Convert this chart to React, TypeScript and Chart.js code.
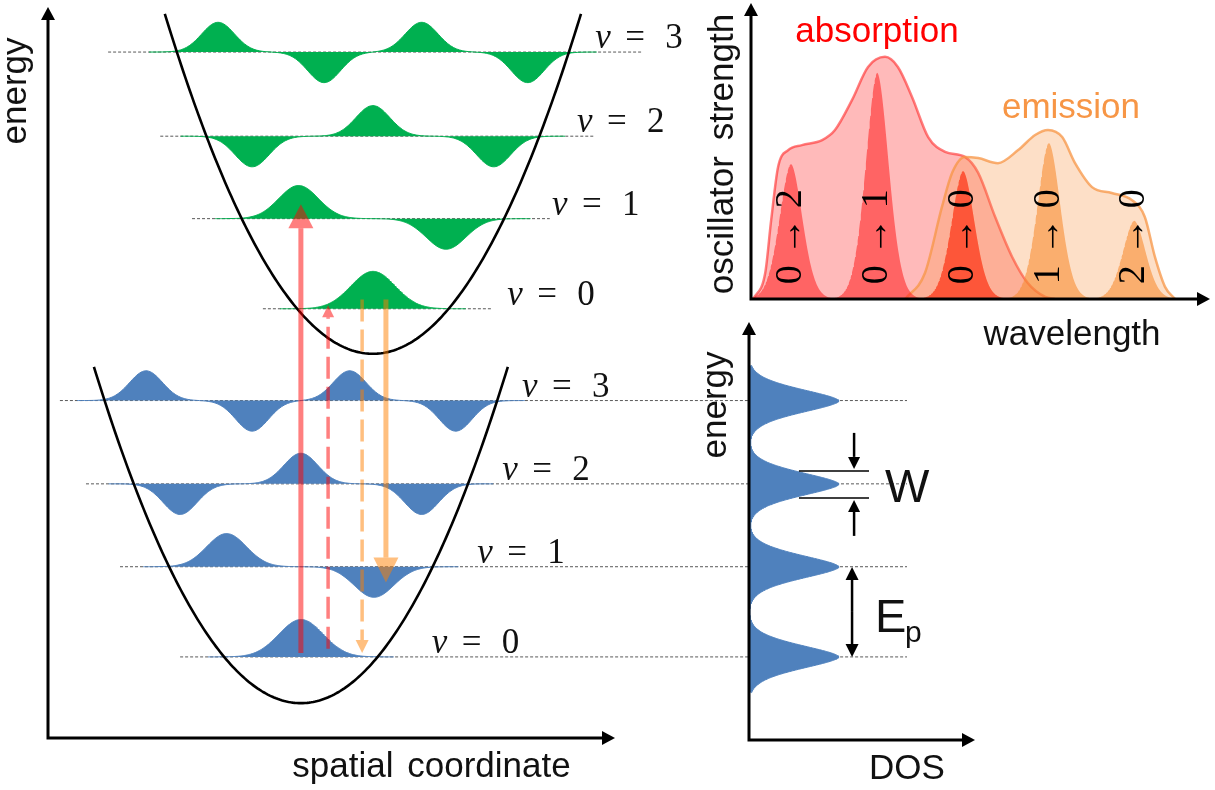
import React, { useEffect, useRef } from "react";
import { Chart, registerables } from "chart.js";

Chart.register(...registerables);

// ================= Franck–Condon panel (spatial coordinate / energy) =================
const wellCenters = [4.46, 5.73]; // ground, excited
const wellMinima = [0.41, 4.52];
const wellCurvature = [0.297, 0.297];
const wellHalfSpan = [3.65, 3.67];

const groundLevels = [0.954, 2.015, 2.99, 3.97];
const excitedLevels = [5.05, 6.11, 7.08, 8.07];

// vibrational wavefunction lobes (offset from well centre, signed amplitude), per quantum number
const lobeOffsets = [[0], [-1.31, 1.29], [-2.13, 0, 2.13], [-2.73, -0.86, 0.86, 2.73]];
const lobeAmps = [[0.44], [0.39, -0.36], [-0.36, 0.36, -0.36], [0.35, -0.36, 0.35, -0.36]];
const lobeWidths = [0.39, 0.35, 0.3, 0.29];

const groundLineStart = [2.33, 1.27, 0.67, 0.21];
const groundLineEnd = [15.15, 15.15, 15.15, 15.15];
const excitedLineStart = [3.79, 2.54, 1.98, 1.06];
const excitedLineEnd = [7.83, 8.85, 9.65, 10.46];

const levelNumbers = ["0", "1", "2", "3"];
const groundLabelX = [6.77, 7.57, 8.01, 8.36];
const excitedLabelX = [8.1, 8.89, 9.33, 9.65];

const transitionX = [4.46, 4.94, 5.54, 5.96];
const transitionFrom = [1.0, 1.05, 5.16, 5.16];
const transitionTo = [6.28, 5.09, 1.0, 1.83];

// ================= spectrum panel (wavelength / oscillator strength) =================
const absEnvX = [0.05, 0.31, 0.44, 0.59, 0.81, 1.11, 1.55, 1.83, 2.2, 2.55, 2.92, 3.2, 3.51, 3.86, 4.23, 4.66, 4.95, 5.32, 5.69, 6.03, 6.41, 6.62];
const absEnvY = [0, 0.88, 2.67, 4.46, 5.03, 5.2, 5.37, 5.71, 6.72, 7.84, 8.18, 7.84, 6.82, 5.47, 4.97, 4.8, 4.26, 2.77, 1.42, 0.54, 0.07, 0];
const emEnvX = [3.36, 3.79, 4.16, 4.38, 4.66, 4.95, 5.38, 5.82, 6.19, 6.47, 6.78, 7.06, 7.43, 7.86, 8.3, 8.58, 8.8, 9.02, 9.24];
const emEnvY = [0, 0.88, 3.11, 4.26, 4.8, 4.76, 4.59, 5.03, 5.54, 5.71, 5.47, 4.59, 3.78, 3.58, 3.34, 2.77, 1.42, 0.41, 0];

const peakLabels = ["0 → 2", "0 → 1", "0 → 0", "1 → 0", "2 → 0"];
const peakPositions = [0.87, 2.75, 4.62, 6.49, 8.35];
const absPeakHeights = [4.56, 7.64, 4.32, 0, 0];
const emPeakHeights = [0, 0, 4.32, 5.27, 2.64];
const peakWidth = 0.36;
const peakLabelLevel = 2.1;

// ================= DOS panel =================
const dosPeakEnergies = [0.954, 2.015, 2.99, 3.97];
const dosPeakHeight = 3.98;
const dosPeakWidth = 0.197;
const bandwidthEdges = [2.828, 3.146]; // W
const phononSpan = [0.954, 2.015]; // Ep

// ---------------- styles ----------------
const GREEN = "#00b050";
const BLUE = "#4f81bd";
const ORANGE = "#f79646";
const SANS = '"Liberation Sans", Arial, sans-serif';
const SERIF = '"Liberation Serif", "DejaVu Serif", serif';

const transitionStyle = [
  { color: "rgba(255,0,0,0.5)", width: 5, dash: [] as number[], head: 24, headW: 25 },
  { color: "rgba(255,0,0,0.5)", width: 3.5, dash: [22, 8], head: 12, headW: 12 },
  { color: "rgba(255,128,0,0.5)", width: 3.5, dash: [22, 8], head: 13, headW: 13 },
  { color: "rgba(255,128,0,0.5)", width: 5, dash: [] as number[], head: 25, headW: 25 },
];

// ---------------- helpers ----------------
function wellData(i: number) {
  const pts: { x: number; y: number }[] = [];
  const c = wellCenters[i], hs = wellHalfSpan[i];
  const N = 200;
  for (let k = 0; k <= N; k++) {
    const x = c - hs + (2 * hs * k) / N;
    pts.push({ x, y: wellMinima[i] + wellCurvature[i] * (x - c) * (x - c) });
  }
  return pts;
}

function waveData(center: number, level: number, n: number) {
  const offs = lobeOffsets[n], amps = lobeAmps[n], s = lobeWidths[n];
  const half = Math.max(...offs.map(Math.abs)) + 4.2 * s;
  const pts: { x: number; y: number }[] = [];
  const N = 300;
  for (let k = 0; k <= N; k++) {
    const x = center - half + (2 * half * k) / N;
    let v = 0;
    offs.forEach((o, j) => {
      const d = x - (center + o);
      v += amps[j] * Math.exp((-d * d) / (2 * s * s));
    });
    pts.push({ x, y: level + v });
  }
  return pts;
}

function peakData(pos: number, h: number) {
  const pts: { x: number; y: number }[] = [];
  const N = 160;
  for (let k = 0; k <= N; k++) {
    const x = pos - 1.1 + (2.2 * k) / N;
    pts.push({ x, y: h * Math.exp(-Math.pow(Math.abs(x - pos) / peakWidth, 1.8)) });
  }
  return pts;
}

function dosData() {
  const pts: { x: number; y: number }[] = [];
  const e0 = dosPeakEnergies[0] - 0.42, e1 = dosPeakEnergies[dosPeakEnergies.length - 1] + 0.42;
  const N = 900;
  for (let k = 0; k <= N; k++) {
    const e = e0 + ((e1 - e0) * k) / N;
    let v = 0;
    dosPeakEnergies.forEach((p) => {
      v += dosPeakHeight * Math.exp(-Math.pow(Math.abs(e - p) / dosPeakWidth, 1.7));
    });
    pts.push({ x: v, y: e });
  }
  return pts;
}

function drawAxes(ctx: CanvasRenderingContext2D, area: any, lw = 3, head = 13, hw = 7) {
  ctx.save();
  ctx.strokeStyle = "#000";
  ctx.fillStyle = "#000";
  ctx.lineWidth = lw;
  ctx.lineCap = "butt";
  ctx.setLineDash([]);
  ctx.beginPath();
  ctx.moveTo(area.left, area.bottom + lw / 2);
  ctx.lineTo(area.left, area.top + head - 1);
  ctx.moveTo(area.left - lw / 2, area.bottom);
  ctx.lineTo(area.right - head + 1, area.bottom);
  ctx.stroke();
  ctx.beginPath();
  ctx.moveTo(area.left, area.top);
  ctx.lineTo(area.left - hw, area.top + head);
  ctx.lineTo(area.left + hw, area.top + head);
  ctx.closePath();
  ctx.fill();
  ctx.beginPath();
  ctx.moveTo(area.right, area.bottom);
  ctx.lineTo(area.right - head, area.bottom - hw);
  ctx.lineTo(area.right - head, area.bottom + hw);
  ctx.closePath();
  ctx.fill();
  ctx.restore();
}

function vText(ctx: CanvasRenderingContext2D, text: string, x: number, y: number, font: string, color: string, baseline: CanvasTextBaseline = "alphabetic", wordSpacing = 0) {
  ctx.save();
  ctx.translate(x, y);
  ctx.rotate(-Math.PI / 2);
  ctx.font = font;
  ctx.fillStyle = color;
  ctx.textAlign = "center";
  ctx.textBaseline = baseline;
  if (wordSpacing && "wordSpacing" in ctx) (ctx as any).wordSpacing = wordSpacing + "px";
  ctx.fillText(text, 0, 0);
  ctx.restore();
}

function hText(ctx: CanvasRenderingContext2D, text: string, x: number, y: number, font: string, color: string, align: CanvasTextAlign = "center", wordSpacing = 0) {
  ctx.save();
  ctx.font = font;
  ctx.fillStyle = color;
  ctx.textAlign = align;
  ctx.textBaseline = "alphabetic";
  if (wordSpacing && "wordSpacing" in ctx) (ctx as any).wordSpacing = wordSpacing + "px";
  ctx.fillText(text, x, y);
  ctx.restore();
}

function vArrow(ctx: CanvasRenderingContext2D, x: number, y0: number, y1: number, color: string, width: number, dash: number[], head: number, headW: number) {
  const dir = y1 < y0 ? -1 : 1;
  const base = y1 - dir * head;
  ctx.save();
  ctx.strokeStyle = color;
  ctx.fillStyle = color;
  ctx.lineWidth = width;
  ctx.lineCap = "butt";
  ctx.setLineDash(dash);
  ctx.beginPath();
  ctx.moveTo(x, y0);
  ctx.lineTo(x, base);
  ctx.stroke();
  ctx.setLineDash([]);
  ctx.beginPath();
  ctx.moveTo(x, y1);
  ctx.lineTo(x - headW / 2, base);
  ctx.lineTo(x + headW / 2, base);
  ctx.closePath();
  ctx.fill();
  ctx.restore();
}

const baseOptions = (padding: any) => ({
  responsive: false,
  maintainAspectRatio: false,
  animation: false as const,
  events: [] as any[],
  layout: { padding },
  plugins: { legend: { display: false }, tooltip: { enabled: false }, title: { display: false } },
  elements: { point: { radius: 0 } },
});

// ---------------- left chart ----------------
function leftConfig(): any {
  const datasets: any[] = [];
  [0, 1].forEach((i) => {
    datasets.push({
      data: wellData(i),
      borderColor: "#000",
      borderWidth: 2.6,
      pointRadius: 0,
      fill: false,
      order: 0,
    });
  });
  levelNumbers.forEach((_, n) => {
    datasets.push({
      data: waveData(wellCenters[0], groundLevels[n], n),
      borderColor: BLUE,
      backgroundColor: BLUE,
      borderWidth: 1,
      pointRadius: 0,
      fill: { value: groundLevels[n] },
      order: 1,
    });
    datasets.push({
      data: waveData(wellCenters[1], excitedLevels[n], n),
      borderColor: GREEN,
      backgroundColor: GREEN,
      borderWidth: 1,
      pointRadius: 0,
      fill: { value: excitedLevels[n] },
      order: 1,
    });
    datasets.push({
      data: [
        { x: groundLineStart[n], y: groundLevels[n] },
        { x: groundLineEnd[n], y: groundLevels[n] },
      ],
      borderColor: "rgba(60,60,60,0.85)",
      borderWidth: 1,
      borderDash: [3, 2],
      pointRadius: 0,
      fill: false,
      clip: false,
      order: 2,
    });
    datasets.push({
      data: [
        { x: excitedLineStart[n], y: excitedLevels[n] },
        { x: excitedLineEnd[n], y: excitedLevels[n] },
      ],
      borderColor: "rgba(60,60,60,0.85)",
      borderWidth: 1,
      borderDash: [3, 2],
      pointRadius: 0,
      fill: false,
      clip: false,
      order: 2,
    });
  });

  const deco = {
    id: "leftDeco",
    afterDatasetsDraw(chart: any) {
      const ctx: CanvasRenderingContext2D = chart.ctx;
      const xs = chart.scales.x, ys = chart.scales.y;
      transitionX.forEach((tx, i) => {
        const st = transitionStyle[i];
        vArrow(ctx, xs.getPixelForValue(tx), ys.getPixelForValue(transitionFrom[i]), ys.getPixelForValue(transitionTo[i]), st.color, st.width, st.dash, st.head, st.headW);
      });
      const label = (xv: number, ev: number, num: string) => {
        const px = xs.getPixelForValue(xv), py = ys.getPixelForValue(ev) - 4;
        hText(ctx, "ν", px, py, `italic 35px ${SERIF}`, "#111", "left");
        hText(ctx, "=", px + 30, py, `35px ${SERIF}`, "#111", "left");
        hText(ctx, num, px + 70, py, `35px ${SERIF}`, "#111", "left");
      };
      levelNumbers.forEach((num, n) => {
        label(groundLabelX[n], groundLevels[n], num);
        label(excitedLabelX[n], excitedLevels[n], num);
      });
    },
    afterDraw(chart: any) {
      const ctx: CanvasRenderingContext2D = chart.ctx;
      const a = chart.chartArea;
      drawAxes(ctx, a);
      vText(ctx, "energy", a.left - 22, a.top + 84, `35px ${SANS}`, "#111");
      hText(ctx, "spatial coordinate", (a.left + a.right) / 2 + 100, a.bottom + 39, `35px ${SANS}`, "#111", "center", 4);
    },
  };

  return {
    type: "line",
    data: { datasets },
    options: {
      ...baseOptions({ left: 48, top: 7, right: 1215 - 615, bottom: 790 - 738 }),
      scales: {
        x: { type: "linear", min: 0, max: 10, display: false },
        y: { type: "linear", min: 0, max: 8.6, display: false },
      },
    },
    plugins: [deco],
  };
}

// ---------------- spectrum chart ----------------
function specConfig(): any {
  const datasets: any[] = [
    {
      data: absEnvX.map((x, i) => ({ x, y: absEnvY[i] })),
      borderColor: "rgba(255,40,40,0.6)",
      backgroundColor: "rgba(255,0,0,0.27)",
      borderWidth: 2.5,
      pointRadius: 0,
      cubicInterpolationMode: "monotone",
      fill: "origin",
      order: 3,
    },
    {
      data: emEnvX.map((x, i) => ({ x, y: emEnvY[i] })),
      borderColor: "rgba(247,150,70,0.75)",
      backgroundColor: "rgba(247,150,70,0.3)",
      borderWidth: 2.5,
      pointRadius: 0,
      cubicInterpolationMode: "monotone",
      fill: "origin",
      order: 2,
    },
  ];
  peakPositions.forEach((p, i) => {
    if (emPeakHeights[i] > 0)
      datasets.push({
        data: peakData(p, emPeakHeights[i]),
        borderWidth: 0,
        borderColor: "rgba(0,0,0,0)",
        backgroundColor: "rgba(247,140,50,0.6)",
        pointRadius: 0,
        fill: "origin",
        order: 1,
      });
    if (absPeakHeights[i] > 0)
      datasets.push({
        data: peakData(p, absPeakHeights[i]),
        borderWidth: 0,
        borderColor: "rgba(0,0,0,0)",
        backgroundColor: "rgba(255,30,30,0.55)",
        pointRadius: 0,
        fill: "origin",
        order: 0,
      });
  });

  const deco = {
    id: "specDeco",
    afterDatasetsDraw(chart: any) {
      const ctx: CanvasRenderingContext2D = chart.ctx;
      const xs = chart.scales.x, ys = chart.scales.y;
      peakLabels.forEach((t, i) => {
        vText(ctx, t, xs.getPixelForValue(peakPositions[i]), ys.getPixelForValue(peakLabelLevel), `38px ${SERIF}`, "#000", "middle");
      });
    },
    afterDraw(chart: any) {
      const ctx: CanvasRenderingContext2D = chart.ctx;
      const a = chart.chartArea;
      drawAxes(ctx, a);
      vText(ctx, "oscillator strength", a.left - 18, a.top + 151, `35px ${SANS}`, "#111", "alphabetic", 6);
      hText(ctx, "absorption", 877, 42, `35px ${SANS}`, "#ff0000");
      hText(ctx, "emission", 1071, 118, `35px ${SANS}`, ORANGE);
      hText(ctx, "wavelength", 1072, 345, `35px ${SANS}`, "#111");
    },
  };

  return {
    type: "line",
    data: { datasets },
    options: {
      ...baseOptions({ left: 751, top: 3, right: 1215 - 1210, bottom: 790 - 299 }),
      scales: {
        x: { type: "linear", min: 0, max: 10, display: false },
        y: { type: "linear", min: 0, max: 10, display: false },
      },
    },
    plugins: [deco],
  };
}

// ---------------- DOS chart ----------------
function dosConfig(): any {
  const datasets: any[] = [
    {
      data: dosData(),
      borderColor: BLUE,
      backgroundColor: BLUE,
      borderWidth: 1,
      pointRadius: 0,
      fill: "origin",
    },
  ];
  const deco = {
    id: "dosDeco",
    afterDatasetsDraw(chart: any) {
      const ctx: CanvasRenderingContext2D = chart.ctx;
      const xs = chart.scales.x, ys = chart.scales.y;
      const peak = dosPeakEnergies[2];
      const yTop = ys.getPixelForValue(bandwidthEdges[1]);
      const yBot = ys.getPixelForValue(bandwidthEdges[0]);
      const xl = xs.getPixelForValue(2.21), xr = xs.getPixelForValue(5.31);
      ctx.save();
      ctx.strokeStyle = "#000";
      ctx.lineWidth = 1.5;
      ctx.beginPath();
      ctx.moveTo(xl, yTop);
      ctx.lineTo(xr, yTop);
      ctx.moveTo(xl, yBot);
      ctx.lineTo(xr, yBot);
      ctx.stroke();
      ctx.restore();
      const xa = xs.getPixelForValue(4.65);
      vArrow(ctx, xa, yTop - 38, yTop - 2, "#000", 2.5, [], 12, 12);
      vArrow(ctx, xa, yBot + 38, yBot + 2, "#000", 2.5, [], 12, 12);
      hText(ctx, "W", xs.getPixelForValue(6.02), ys.getPixelForValue(peak) + 18, `47px ${SANS}`, "#111", "left");
      // Ep double arrow
      const xe = xs.getPixelForValue(4.56);
      const y1 = ys.getPixelForValue(phononSpan[1]);
      const y0 = ys.getPixelForValue(phononSpan[0]);
      const mid = (y0 + y1) / 2;
      vArrow(ctx, xe, mid, y1, "#000", 2.5, [], 13, 13);
      vArrow(ctx, xe, mid, y0, "#000", 2.5, [], 13, 13);
      hText(ctx, "E", xs.getPixelForValue(5.58), mid + 20, `47px ${SANS}`, "#111", "left");
      hText(ctx, "p", xs.getPixelForValue(5.58) + 30, mid + 30, `30px ${SANS}`, "#111", "left");
    },
    afterDraw(chart: any) {
      const ctx: CanvasRenderingContext2D = chart.ctx;
      const a = chart.chartArea;
      drawAxes(ctx, a);
      vText(ctx, "energy", a.left - 23, a.top + 83, `35px ${SANS}`, "#111");
      hText(ctx, "DOS", 907, 779, `35px ${SANS}`, "#111");
    },
  };
  return {
    type: "line",
    data: { datasets },
    options: {
      ...baseOptions({ left: 749, top: 322, right: 1215 - 975, bottom: 790 - 740 }),
      indexAxis: "y",
      scales: {
        x: { type: "linear", min: 0, max: 10, display: false },
        y: { type: "linear", min: -0.024, max: 4.9, display: false },
      },
    },
    plugins: [deco],
  };
}

export default function App() {
  const leftRef = useRef<HTMLCanvasElement>(null);
  const specRef = useRef<HTMLCanvasElement>(null);
  const dosRef = useRef<HTMLCanvasElement>(null);

  useEffect(() => {
    const charts: Chart[] = [];
    if (leftRef.current) charts.push(new Chart(leftRef.current, leftConfig()));
    if (specRef.current) charts.push(new Chart(specRef.current, specConfig()));
    if (dosRef.current) charts.push(new Chart(dosRef.current, dosConfig()));
    return () => charts.forEach((c) => c.destroy());
  }, []);

  const cs: React.CSSProperties = { position: "absolute", left: 0, top: 0, width: 1215, height: 790 };
  return (
    <div style={{ position: "absolute", left: 0, top: 0, width: 1215, height: 790, background: "#fff", overflow: "hidden" }}>
      <canvas ref={leftRef} width={1215} height={790} style={cs} />
      <canvas ref={specRef} width={1215} height={790} style={cs} />
      <canvas ref={dosRef} width={1215} height={790} style={cs} />
    </div>
  );
}
